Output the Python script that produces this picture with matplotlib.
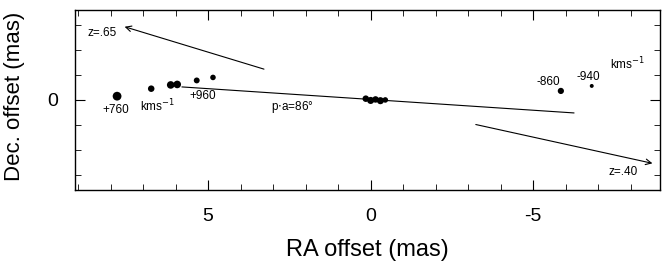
import matplotlib
matplotlib.use("Agg")
import matplotlib.pyplot as plt
from matplotlib.ticker import MultipleLocator

plt.rcParams["font.family"] = ["Liberation Sans", "DejaVu Sans"]
plt.rcParams["axes.unicode_minus"] = False

# maser features (RA offset, Dec offset, marker size)
spot_ra = [7.8, 6.75, 6.15, 5.95, 5.35, 4.85,
           0.15, 0.0, -0.15, -0.3, -0.45, -5.85, -6.8]
spot_dec = [0.15, 0.45, 0.6, 0.62, 0.78, 0.9,
            0.05, -0.02, 0.02, -0.03, 0.0, 0.36, 0.56]
spot_size = [40, 22, 30, 30, 18, 16, 22, 26, 22, 26, 16, 20, 8]

# disk position angle line
pa_ra = [5.8, -6.25]
pa_dec = [0.52, -0.52]

# jet arrows (start, end)
jet_n = [(3.2, 1.2), (7.65, 2.96)]
jet_s = [(-3.15, -0.96), (-8.75, -2.56)]

labels = [
    (8.25, 2.68, "z=.65"),
    (-7.75, -2.9, "z=.40"),
    (7.85, -0.42, "+760"),
    (6.55, -0.25, "kms$^{-1}$"),
    (5.17, 0.14, "+960"),
    (2.4, -0.3, "p$\\cdot$a=86°"),
    (-5.45, 0.7, "-860"),
    (-6.7, 0.9, "-940"),
    (-7.9, 1.42, "kms$^{-1}$"),
]

fig = plt.figure(figsize=(6.62, 2.69), dpi=100)
ax = fig.add_axes([0.113, 0.294, 0.884, 0.669])

ax.scatter(spot_ra, spot_dec, s=spot_size, c="black", marker="o", linewidths=0)
ax.plot(pa_ra, pa_dec, color="black", lw=0.8)

for (x0, y0), (x1, y1) in [jet_n, jet_s]:
    ax.annotate("", xy=(x1, y1), xytext=(x0, y0),
                arrowprops=dict(arrowstyle="->", color="black", lw=0.8))

for x, y, t in labels:
    ax.text(x, y, t, fontsize=8.5, ha="center", va="center")

ax.set_xlim(9.1, -8.9)
ax.set_ylim(-3.6, 3.6)

ax.xaxis.set_major_locator(MultipleLocator(5))
ax.xaxis.set_minor_locator(MultipleLocator(1))
ax.set_yticks([0])
ax.yaxis.set_minor_locator(MultipleLocator(1))
ax.tick_params(which="both", direction="in", top=True, right=True)
ax.tick_params(which="major", length=7, labelsize=14)
ax.tick_params(which="minor", length=4)
ax.tick_params(axis="x", pad=13)
ax.tick_params(axis="y", pad=12)

ax.set_xlabel("RA offset (mas)", fontsize=17)
ax.set_ylabel("Dec. offset (mas)", fontsize=16)
ax.xaxis.set_label_coords(0.5, -0.27)
ax.yaxis.set_label_coords(-0.085, 0.52)

for s in ax.spines.values():
    s.set_linewidth(1.0)

fig.savefig("out.png", dpi=100)
